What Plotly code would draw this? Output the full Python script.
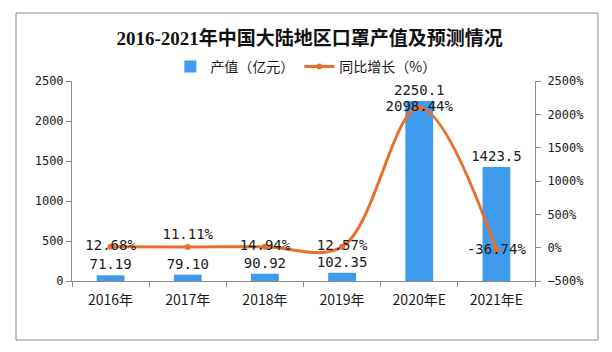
import plotly.graph_objects as go

categories = ["2016年", "2017年", "2018年", "2019年", "2020年E", "2021年E"]
output_value = [71.19, 79.10, 90.92, 102.35, 2250.1, 1423.5]
output_labels = ["71.19", "79.10", "90.92", "102.35", "2250.1", "1423.5"]
yoy_growth = [12.68, 11.11, 14.94, 12.57, 2098.44, -36.74]
yoy_labels = ["12.68%", "11.11%", "14.94%", "12.57%", "2098.44%", "-36.74%"]
yoy_pos = ["middle center", "top center", "middle center", "middle center", "middle center", "middle center"]

label_font = "DejaVu Sans Mono, Noto Sans CJK SC, sans-serif"
cjk_font = "Noto Sans CJK SC, sans-serif"
axis_color = "#8c8c8c"

fig = go.Figure()
fig.add_trace(go.Bar(
    x=categories, y=output_value, name="产值（亿元）",
    marker=dict(color="#3E9BEE", line=dict(width=0)),
    width=0.36,
    text=output_labels, textposition="outside", cliponaxis=False,
    constraintext="none",
    textfont=dict(family=label_font, size=14, color="#1a1a1a"),
))
fig.add_trace(go.Scatter(
    x=categories, y=yoy_growth, name="同比增长（%）", yaxis="y2",
    mode="lines+markers+text",
    line=dict(color="#E8702A", width=3, shape="spline", smoothing=1.0),
    marker=dict(color="#E8702A", size=6),
    text=yoy_labels, textposition=yoy_pos, cliponaxis=False,
    textfont=dict(family=label_font, size=14, color="#1a1a1a"),
))

fig.update_layout(
    width=612, height=352,
    margin=dict(l=72, r=77, t=81, b=71),
    paper_bgcolor="white", plot_bgcolor="white",
    showlegend=True,
    title=dict(text="<b>2016-2021年中国大陆地区口罩产值及预测情况</b>",
               x=0.506, xanchor="center", y=1 - 38 / 352, yanchor="middle",
               font=dict(family="Liberation Serif, Noto Sans CJK SC, serif", size=19, color="#111")),
    legend=dict(orientation="h", x=0.505, xanchor="center", y=1.07, yanchor="middle",
                font=dict(family=cjk_font, size=14, color="#1a1a1a"),
                bgcolor="rgba(0,0,0,0)", itemwidth=30, tracegroupgap=0),
    xaxis=dict(showline=True, linecolor=axis_color, linewidth=1,
               ticks="outside", tickson="boundaries", ticklen=5, tickcolor=axis_color,
               ticklabelstandoff=6,
               tickfont=dict(family=cjk_font, size=14, color="#1a1a1a"),
               showgrid=False),
    yaxis=dict(range=[0, 2500], dtick=500, showline=True, linecolor=axis_color,
               ticks="outside", ticklen=5, tickcolor=axis_color, showgrid=False, zeroline=False,
               tickfont=dict(family=label_font, size=12, color="#1a1a1a")),
    yaxis2=dict(range=[-500, 2500], dtick=500, overlaying="y", side="right", showline=True,
                linecolor=axis_color, ticks="outside", ticklen=5, tickcolor=axis_color,
                ticksuffix="%", showgrid=False, zeroline=False, ticklabelstandoff=4,
                tickfont=dict(family=label_font, size=12, color="#1a1a1a")),
    bargap=0.64,
)

fig.add_shape(type="rect", xref="paper", yref="paper",
              x0=(16 - 72) / 463, x1=(598 - 72) / 463,
              y0=(281 - 340) / 200, y1=(281 - 13) / 200,
              line=dict(color="#8c8c8c", width=1), fillcolor="rgba(0,0,0,0)", layer="below")

fig.write_html("out.html")
